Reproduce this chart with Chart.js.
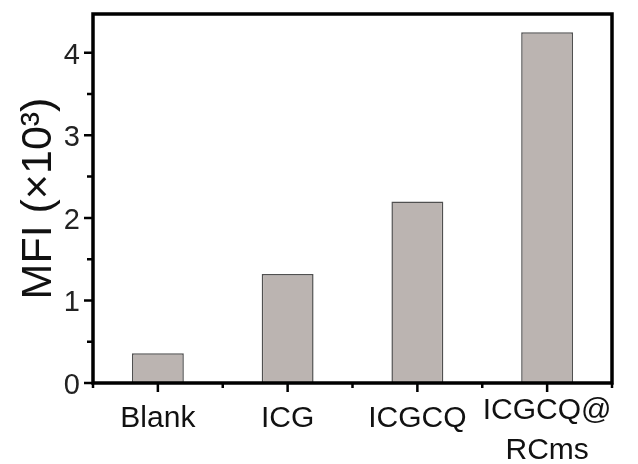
<!DOCTYPE html>
<html lang="en">
<head>
    <meta charset="UTF-8">
    <title>MFI bar chart</title>
    <script src="https://cdn.jsdelivr.net/npm/chart.js"></script>
    <style>
        html, body {
            margin: 0;
            padding: 0;
            background: #fff;
        }
        .wrap {
            width: 638px;
            height: 464px;
        }
    </style>
</head>
<body>

<div class="wrap">
    <canvas id="mfiChart" width="638" height="464"></canvas>
</div>

<script>
    const categories = ['Blank', 'ICG', 'ICGCQ', ['ICGCQ@', 'RCms']];
    const mfiValues = [0.36, 1.32, 2.20, 4.25];
    const yMin = 0;
    const yMax = 4.47;
    const yStep = 0.5;
    const yTitle = 'MFI (×10³)';

    const FONT = "'Liberation Sans', Arial, sans-serif";

    // frame round the plot, plus major/minor tick marks pointing outward
    const frameAndTicks = {
        id: 'frameAndTicks',
        afterDraw(chart) {
            const { ctx, chartArea: a, scales: { x, y } } = chart;
            ctx.save();
            ctx.strokeStyle = '#000';
            ctx.lineWidth = 2.5;
            ctx.beginPath();
            y.ticks.forEach(t => {
                const py = y.getPixelForValue(t.value);
                const len = Number.isInteger(t.value) ? 9 : 6;
                ctx.moveTo(a.left, py);
                ctx.lineTo(a.left - len, py);
            });
            for (let i = 0; i < categories.length; i++) {
                const px = x.getPixelForValue(i);
                ctx.moveTo(px, a.bottom);
                ctx.lineTo(px, a.bottom + 9);
            }
            for (let i = -0.5; i < categories.length; i += 1) {
                const px = x.getPixelForValue(i);
                ctx.moveTo(px, a.bottom);
                ctx.lineTo(px, a.bottom + 5);
            }
            ctx.stroke();
            ctx.lineWidth = 3.5;
            ctx.lineCap = 'square';
            ctx.strokeRect(a.left, a.top, a.right - a.left, a.bottom - a.top);
            ctx.restore();
        }
    };

    new Chart(document.getElementById('mfiChart'), {
        type: 'bar',
        data: {
            labels: categories,
            datasets: [{
                data: mfiValues,
                backgroundColor: '#bbb4b1',
                borderColor: '#505050',
                borderWidth: 1.5,
                categoryPercentage: 1,
                barPercentage: 0.4
            }]
        },
        options: {
            responsive: false,
            animation: false,
            layout: {
                padding: { top: 14, right: 26, left: 0, bottom: 0 }
            },
            plugins: {
                legend: { display: false },
                tooltip: { enabled: false }
            },
            scales: {
                x: {
                    offset: true,
                    border: { display: false },
                    grid: { display: false, drawTicks: false },
                    ticks: {
                        color: '#111',
                        padding: 8,
                        maxRotation: 0,
                        autoSkip: false,
                        font: ctx => ({
                            family: FONT,
                            size: 30,
                            lineHeight: Array.isArray(categories[ctx.index]) ? 1.333 : 1.867
                        })
                    },
                    afterFit: s => {
                        s.height = 81;
                        s.paddingLeft = 0;
                        s.paddingRight = 0;
                    }
                },
                y: {
                    min: yMin,
                    max: yMax,
                    border: { display: false },
                    grid: { display: false, drawTicks: false },
                    ticks: {
                        stepSize: yStep,
                        includeBounds: false,
                        color: '#222',
                        padding: 13,
                        labelOffset: 3,
                        font: { family: FONT, size: 29 },
                        callback: v => Number.isInteger(v) ? v : ''
                    },
                    title: {
                        display: true,
                        text: yTitle,
                        color: '#111',
                        padding: { top: 13, bottom: 0 },
                        font: { family: FONT, size: 43 }
                    },
                    afterFit: s => {
                        s.width = 93;
                        s.paddingTop = 0;
                        s.paddingBottom = 0;
                    }
                }
            }
        },
        plugins: [frameAndTicks]
    });
</script>

</body>
</html>
